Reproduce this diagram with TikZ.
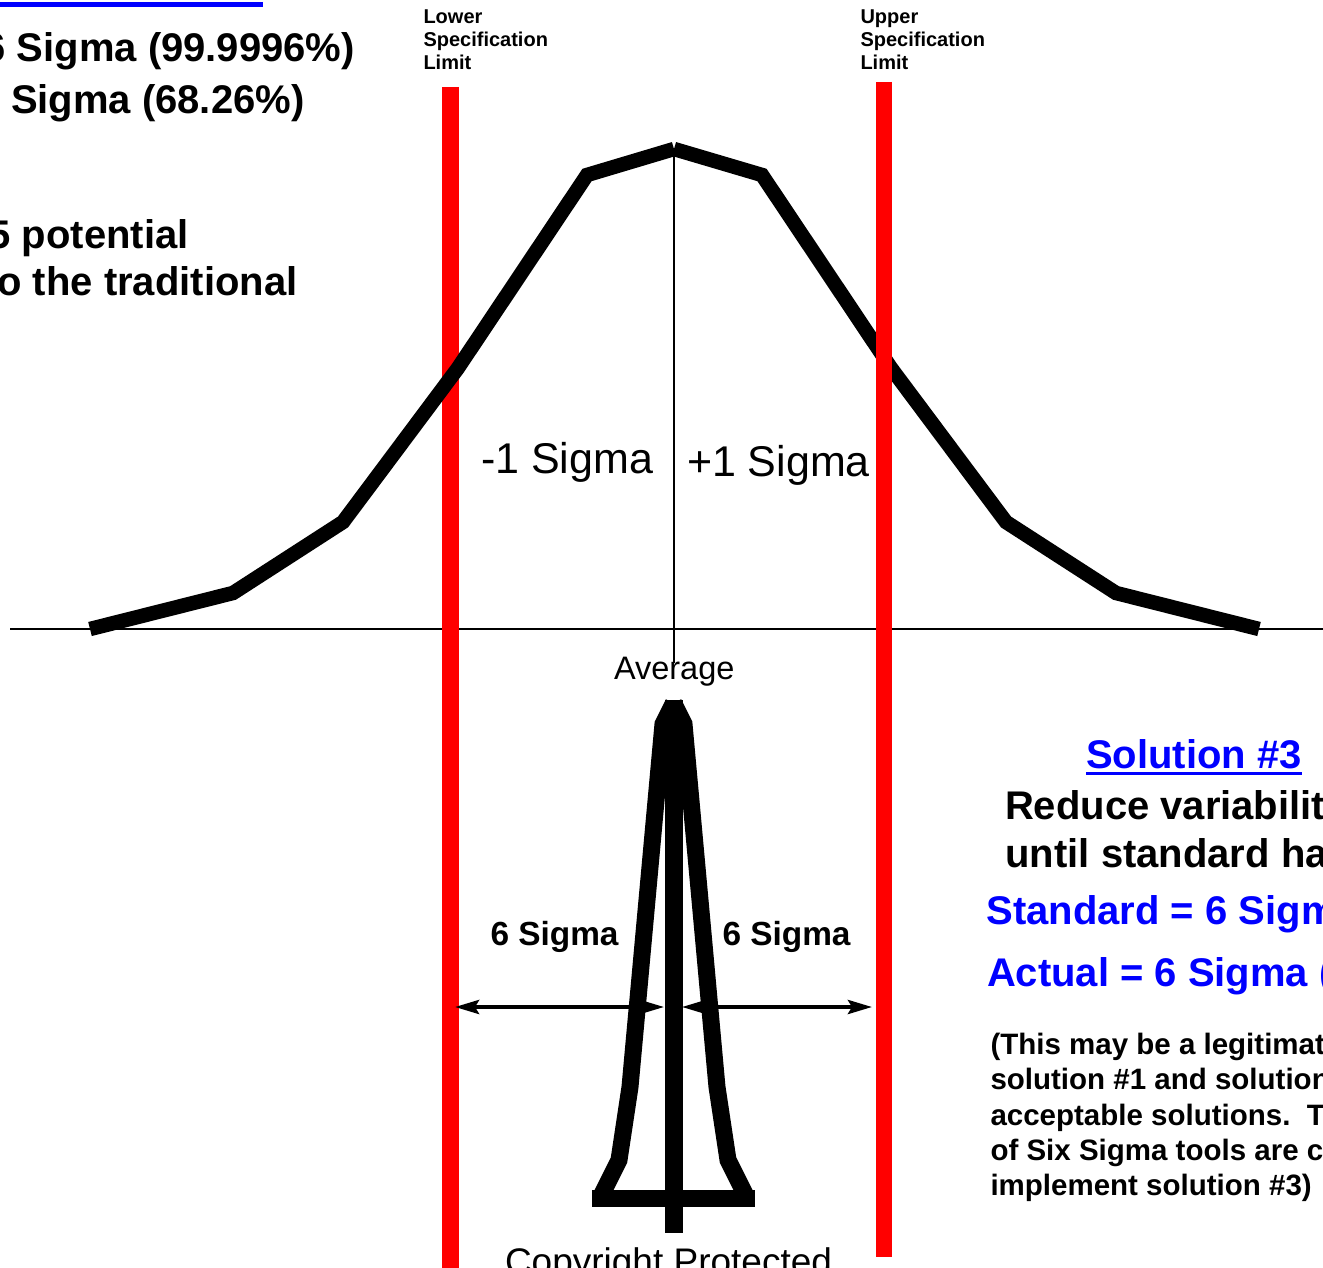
\documentclass[tikz,border=0pt]{standalone}
\usepackage{fontspec}
\setmainfont{Liberation Sans}
\usetikzlibrary{arrows.meta}
\definecolor{sred}{RGB}{255,0,0}
\definecolor{sblue}{RGB}{0,0,255}
\begin{document}
\begin{tikzpicture}[x=1pt,y=-1pt,
  redbar/.style={sred, line width=16.5pt, line cap=butt},
  bell/.style={black, line width=14.5pt, line join=miter, line cap=butt},
  narrow/.style={black, line width=17pt, line join=miter, line cap=butt},
  thinline/.style={black, line width=1.8pt},
  dimarrow/.style={black, line width=4pt, {Stealth[length=24pt,width=14pt,inset=4pt]}-{Stealth[length=24pt,width=14pt,inset=4pt]}},
  lbl/.style={inner sep=0pt, outer sep=0pt, anchor=base west},
  bigb/.style={lbl, font=\fontsize{40}{48}\selectfont\bfseries},
  bigblue/.style={bigb, text=sblue},
  sig/.style={lbl, font=\fontsize{43}{50}\selectfont},
  sixs/.style={lbl, font=\fontsize{33.4}{40}\selectfont\bfseries},
  spec/.style={lbl, font=\fontsize{20}{23.5}\selectfont\bfseries},
  smallb/.style={lbl, font=\fontsize{29.5}{35}\selectfont\bfseries},
  plain/.style={lbl, font=\fontsize{32.5}{38}\selectfont},
  copy/.style={lbl, font=\fontsize{37}{44}\selectfont}
]
\useasboundingbox (0,0) rectangle (1323,1268);
\clip (0,0) rectangle (1323,1268);

% top-left underline remnant
\draw[sblue, line width=5pt] (0,4.2) -- (262.7,4.2);

% axes
\coordinate (axL) at (10,629);
\coordinate (axR) at (1323,629);
\draw[thinline] (axL) -- (axR);
\coordinate (peakTop) at (674,150);
\coordinate (avgBot) at (674,663);
\draw[thinline] (peakTop) -- (avgBot);

% lower specification limit (red)
\coordinate (lslT) at (450.5,87);
\coordinate (lslB) at (450.5,1268);
\draw[redbar] (lslT) -- (lslB);

% wide bell curve
\draw[bell] (90,629) -- (233,593) -- (343,522) -- (458,368) -- (587,175) -- (674,149);
\draw[bell] (674,149) -- (762,175) -- (891,368) -- (1006,522) -- (1116,593) -- (1259,629);

% upper specification limit (red)
\coordinate (uslT) at (884,82);
\coordinate (uslB) at (884,1257);
\draw[redbar] (uslT) -- (uslB);

% narrow curve
\draw[narrow] (600,1198) -- (619,1160) -- (630,1087) -- (663,724) -- (673.5,703);
\draw[narrow] (673.5,703) -- (684,724) -- (717,1087) -- (728,1160) -- (747,1198);
\coordinate (baseL) at (592,1198.5);
\coordinate (baseR) at (755,1198.5);
\draw[black, line width=17pt] (baseL) -- (baseR);
\coordinate (ctrT) at (673.5,700);
\coordinate (ctrB) at (673.5,1233);
\draw[black, line width=18pt] (ctrT) -- (ctrB);

% 6 sigma arrows
\coordinate (aL1) at (455,1007);
\coordinate (aL2) at (664,1007);
\coordinate (aR1) at (682,1007);
\coordinate (aR2) at (872,1007);
\draw[dimarrow] (aL1) -- (aL2);
\draw[dimarrow] (aR1) -- (aR2);

% spec labels
\node[spec] (lo1) at (423.5,24) {Lower};
\node[spec] (lo2) at (423.5,47) {Specification};
\node[spec] (lo3) at (423.5,70) {Limit};
\node[spec] (up1) at (860.5,24) {Upper};
\node[spec] (up2) at (860.5,47) {Specification};
\node[spec] (up3) at (860.5,70) {Limit};

% top-left texts
\node[bigb] (tl1) at (-16.4,62) {6 Sigma (99.9996\%)};
\node[bigb] (tl2) at (11,114) {Sigma (68.26\%)};
\node[bigb] (tl3) at (-11.4,248) {5 potential};
\node[bigb] (tl4) at (-2.6,295) {o the traditional};

% sigma labels
\node[sig] (m1) at (481,473) {-1 Sigma};
\node[sig] (p1) at (687,476) {+1 Sigma};
\node[plain] (avg) at (614,679) {Average};
\node[sixs] (s6L) at (490.5,945) {6 Sigma};
\node[sixs] (s6R) at (722.5,945) {6 Sigma};
\node[copy] (cpr) at (505,1274) {Copyright Protected};

% right texts
\node[bigblue] (sol) at (1086,768) {Solution \#3};
\draw[sblue, line width=3.3pt] ([yshift=-5.5pt]sol.base west) -- ([yshift=-5.5pt]sol.base east);
\node[bigb] (r1) at (1005,819) {Reduce variability};
\node[bigb] (r2) at (1005.5,867) {until standard has};
\node[bigblue] (r3) at (986.5,924) {Standard = 6 Sigma};
\node[bigblue] (r4) at (987,986) {Actual = 6 Sigma (};
\node[smallb] (n1) at (990.5,1054) {(This may be a legitimate};
\node[smallb] (n2) at (990.5,1089) {solution \#1 and solution};
\node[smallb] (n3) at (990.5,1125) {acceptable solutions.\ \ T};
\node[smallb] (n4) at (990.5,1160) {of Six Sigma tools are c};
\node[smallb] (n5) at (990.5,1195) {implement solution \#3)};
\end{tikzpicture}
\end{document}
